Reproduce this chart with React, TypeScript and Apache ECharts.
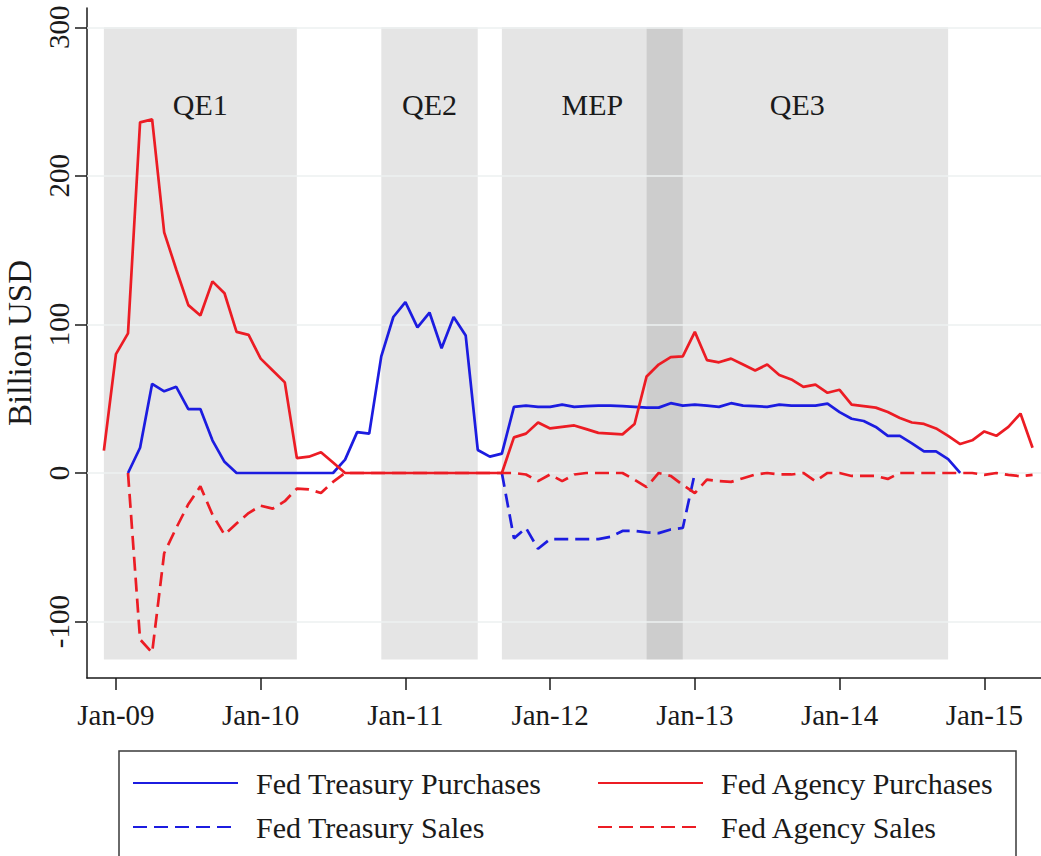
import React, { useEffect, useRef } from 'react';
import * as echarts from 'echarts';

// monthly observations, Dec 2008 .. May 2015
const MONTHS = [
  '2008-12',
  '2009-01', '2009-02', '2009-03', '2009-04', '2009-05', '2009-06', '2009-07', '2009-08', '2009-09', '2009-10', '2009-11', '2009-12',
  '2010-01', '2010-02', '2010-03', '2010-04', '2010-05', '2010-06', '2010-07', '2010-08', '2010-09', '2010-10', '2010-11', '2010-12',
  '2011-01', '2011-02', '2011-03', '2011-04', '2011-05', '2011-06', '2011-07', '2011-08', '2011-09', '2011-10', '2011-11', '2011-12',
  '2012-01', '2012-02', '2012-03', '2012-04', '2012-05', '2012-06', '2012-07', '2012-08', '2012-09', '2012-10', '2012-11', '2012-12',
  '2013-01', '2013-02', '2013-03', '2013-04', '2013-05', '2013-06', '2013-07', '2013-08', '2013-09', '2013-10', '2013-11', '2013-12',
  '2014-01', '2014-02', '2014-03', '2014-04', '2014-05', '2014-06', '2014-07', '2014-08', '2014-09', '2014-10', '2014-11', '2014-12',
  '2015-01', '2015-02', '2015-03', '2015-04', '2015-05',
];

const TREASURY_PURCHASES = [
  null,
  null, 0, 17, 60, 55, 58, 43, 43, 22, 7.5, 0, 0,
  0, 0, 0, 0, 0, 0, 0, 9, 27.5, 26.5, 78.5, 105,
  115, 98, 108, 84, 105, 92.5, 15.5, 11, 13, 44.5, 45.3, 44.5,
  44.5, 46, 44.5, 45, 45.3, 45.3, 45, 44.5, 44, 44, 47, 45.3,
  46, 45.3, 44.5, 47, 45.3, 45, 44.5, 46, 45.3, 45.3, 45.3, 46.7,
  41, 36.5, 35, 31, 25, 25, 20, 14.6, 14.6, 9.4, 0, null,
  null, null, null, null, null,
];

const TREASURY_SALES = [
  null,
  null, null, null, null, null, null, null, null, null, null, null, null,
  null, null, null, null, null, null, null, null, null, null, null, null,
  null, null, null, null, null, null, null, null, 0, -44, -37, -51,
  -44.5, -44.5, -44.5, -44.5, -44.5, -43, -39, -39, -40, -40.5, -38, -37,
  0, null, null, null, null, null, null, null, null, null, null, null,
  null, null, null, null, null, null, null, null, null, null, null, null,
  null, null, null, null, null,
];

const AGENCY_PURCHASES = [
  15,
  80, 94, 236, 238, 162, 137, 113, 106, 129, 121, 95, 93,
  77, 69, 61, 10, 11, 14, 7, 0, 0, 0, 0, 0,
  0, 0, 0, 0, 0, 0, 0, 0, 0, 24, 26.5, 34,
  30, 31, 32, 29.5, 27, 26.5, 26, 33, 65, 73, 78, 78.5,
  95, 76, 74.5, 77, 73, 69, 73, 66, 63, 58, 59.5, 54,
  56, 46, 45, 44, 41, 37, 34, 33, 30, 25, 19.5, 22,
  28, 25, 31, 40, 17,
];

const AGENCY_SALES = [
  null,
  null, 0, -112, -121, -54, -37, -21, -9, -28, -41.5, -34, -27,
  -22, -24, -19, -10.5, -11, -13.5, -6, 0, 0, 0, 0, 0,
  0, 0, 0, 0, 0, 0, 0, 0, 0, 0, -1, -5.5,
  -1, -5.5, -1, 0, 0, 0, 0, -4.5, -9.5, 0, -2, -8,
  -13.5, -4.5, -5.5, -6, -3.5, -1, 0, -1, -1, 0, -5.5, 0,
  0, -2, -2, -2, -4, 0, 0, 0, 0, 0, 0, 0,
  -1.3, 0, -1.3, -2.2, -1.3,
];

// policy periods (shaded)
const PERIOD_NAMES = ['QE1', 'QE2', 'MEP', 'QE3'];
const PERIOD_START = ['2008-12', '2010-11', '2011-09', '2012-09'];
const PERIOD_END = ['2010-04', '2011-07', '2012-12', '2014-10'];
const SHADE_LOW = -125.5;
const SHADE_HIGH = 300;

const TICK_MONTHS = ['2009-01', '2010-01', '2011-01', '2012-01', '2013-01', '2014-01', '2015-01'];
const TICK_LABELS = ['Jan-09', 'Jan-10', 'Jan-11', 'Jan-12', 'Jan-13', 'Jan-14', 'Jan-15'];
const Y_TICKS = [-100, 0, 100, 200, 300];

const SERIF = "'Liberation Serif', 'Times New Roman', serif";
const BLUE = '#1c1ce0';
const RED = '#ec1c24';
const INK = '#1a1a1a';

// months since Jan 2009
const toOffset = (ym: string) => {
  const [y, m] = ym.split('-').map(Number);
  return (y - 2009) * 12 + (m - 1);
};

const App: React.FC = () => {
  const chartRef = useRef<HTMLDivElement>(null);

  useEffect(() => {
    if (!chartRef.current) return;
    const chart = echarts.init(chartRef.current, undefined, { renderer: 'svg' });

    const xs = MONTHS.map(toOffset);
    const pairs = (vals: (number | null)[]) => xs.map((x, i) => [x, vals[i] ?? '-']);
    const tickX = TICK_MONTHS.map(toOffset);

    const lineSeries = (name: string, vals: (number | null)[], color: string, dashed: boolean) => ({
      name,
      type: 'line',
      data: pairs(vals),
      symbol: 'none',
      z: 5,
      connectNulls: false,
      lineStyle: { color, width: 2.7, type: dashed ? [14, 7] : 'solid' },
      itemStyle: { color },
    });

    const legendBase = {
      orient: 'horizontal',
      itemWidth: 105,
      itemHeight: 14,
      padding: 0,
      selectedMode: false,
      itemStyle: { opacity: 0, borderWidth: 0 },
      textStyle: { fontFamily: SERIF, fontSize: 30, color: INK, padding: [0, 0, 0, 13] },
    };

    const option: any = {
      animation: false,
      grid: { left: 87, top: 8, width: 957.6, height: 670, outerBoundsMode: 'none' },
      xAxis: {
        type: 'value',
        min: -2.4,
        max: 77,
        splitLine: { show: false },
        axisLine: { show: true, onZero: false, lineStyle: { color: INK, width: 1.5 } },
        axisTick: { show: true, length: 12, customValues: tickX, lineStyle: { color: INK, width: 1.5 } },
        axisLabel: {
          customValues: tickX,
          formatter: (v: number) => TICK_LABELS[tickX.indexOf(v)] ?? '',
          margin: 22,
          fontFamily: SERIF,
          fontSize: 29,
          color: INK,
        },
      },
      yAxis: {
        type: 'value',
        min: -138,
        max: 313,
        splitLine: { show: false },
        axisLine: { show: true, onZero: false, lineStyle: { color: INK, width: 1.5 } },
        axisTick: { show: true, length: 12, customValues: Y_TICKS, lineStyle: { color: INK, width: 1.5 } },
        axisLabel: {
          customValues: Y_TICKS,
          rotate: 90,
          margin: 14,
          fontFamily: SERIF,
          fontSize: 29,
          color: INK,
        },
        name: 'Billion USD',
        nameLocation: 'middle',
        nameGap: 44,
        nameTextStyle: { fontFamily: SERIF, fontSize: 33, color: INK },
      },
      legend: [
        { ...legendBase, data: ['Fed Treasury Purchases'], left: 132, top: 768 },
        { ...legendBase, data: ['Fed Agency Purchases'], left: 597, top: 768 },
        { ...legendBase, data: ['Fed Treasury Sales'], left: 132, top: 812 },
        { ...legendBase, data: ['Fed Agency Sales'], left: 597, top: 812 },
      ],
      graphic: [
        {
          type: 'rect',
          shape: { x: 119, y: 751, width: 897, height: 130 },
          style: { fill: 'none', stroke: '#3a3a3a', lineWidth: 1.5 },
          silent: true,
        },
      ],
      series: [
        {
          name: 'periods',
          type: 'line',
          data: [],
          z: 1,
          silent: true,
          markArea: {
            silent: true,
            z: 1,
            itemStyle: { color: 'rgba(0,0,0,0.1)' },
            label: {
              show: true,
              position: 'insideTop',
              distance: 62,
              fontFamily: SERIF,
              fontSize: 30,
              color: INK,
            },
            data: PERIOD_NAMES.map((name, i) => [
              { name, xAxis: toOffset(PERIOD_START[i]), yAxis: SHADE_LOW },
              { xAxis: toOffset(PERIOD_END[i]), yAxis: SHADE_HIGH },
            ]),
          },
        },
        {
          name: 'grid',
          type: 'line',
          data: [],
          z: 2,
          silent: true,
          markLine: {
            silent: true,
            z: 2,
            symbol: ['none', 'none'],
            label: { show: false },
            lineStyle: { color: '#ecf0f0', width: 1.5, type: 'solid' },
            data: Y_TICKS.map((v) => ({ yAxis: v })),
          },
        },
        lineSeries('Fed Treasury Purchases', TREASURY_PURCHASES, BLUE, false),
        lineSeries('Fed Treasury Sales', TREASURY_SALES, BLUE, true),
        lineSeries('Fed Agency Purchases', AGENCY_PURCHASES, RED, false),
        lineSeries('Fed Agency Sales', AGENCY_SALES, RED, true),
      ],
    };

    chart.setOption(option);

    return () => {
      chart.dispose();
    };
  }, []);

  return (
    <div
      ref={chartRef}
      style={{ position: 'absolute', left: 0, top: 0, width: 1041, height: 856, background: '#fff' }}
    />
  );
};

export default App;
